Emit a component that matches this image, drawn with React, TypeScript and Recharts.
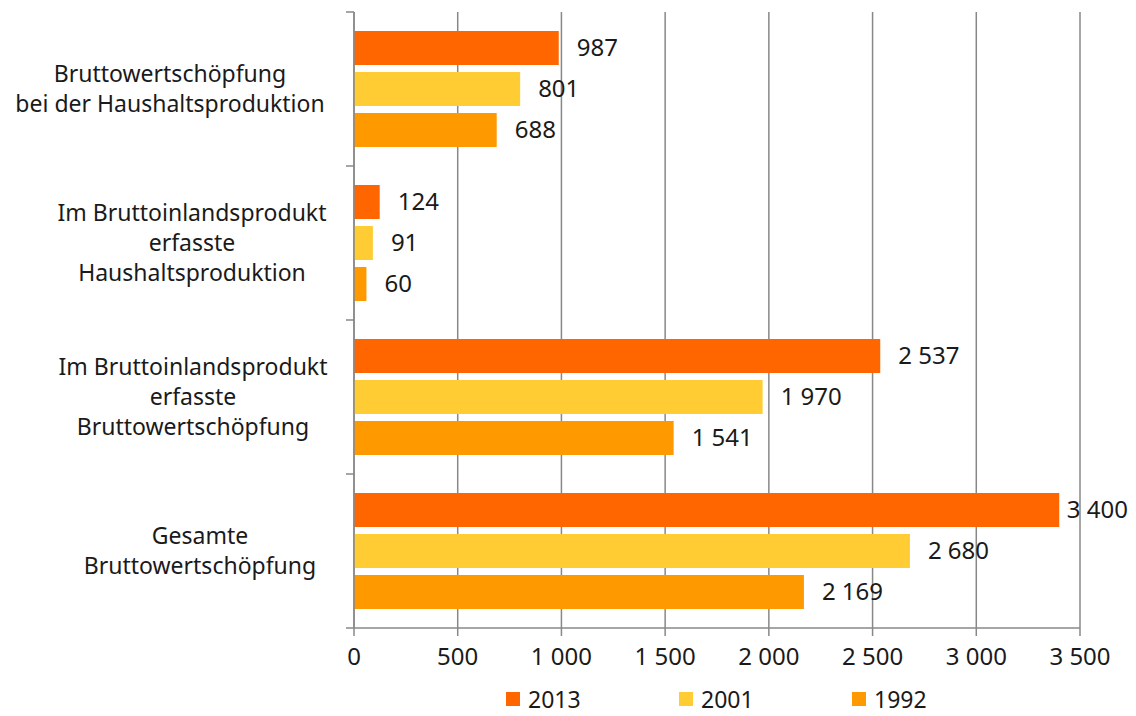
import { BarChart, Bar, XAxis, YAxis, CartesianGrid, Legend, LabelList } from "recharts";

const categories = [
  "Bruttowertschöpfung\nbei der Haushaltsproduktion",
  "Im Bruttoinlandsprodukt\nerfasste\nHaushaltsproduktion",
  "Im Bruttoinlandsprodukt\nerfasste\nBruttowertschöpfung",
  "Gesamte\nBruttowertschöpfung",
];
const years = ["2013", "2001", "1992"];
const values2013 = [987, 124, 2537, 3400];
const values2001 = [801, 91, 1970, 2680];
const values1992 = [688, 60, 1541, 2169];
const xTicks = [0, 500, 1000, 1500, 2000, 2500, 3000, 3500];

const data = categories.map((name, i) => ({
  name,
  y2013: values2013[i],
  y2001: values2001[i],
  y1992: values1992[i],
}));

const FONT = "'Noto Sans', sans-serif";
const FS = 24;
const GRID = "#888888";
const TOP = 12;
const PLOT_H = 616;
const BAND = PLOT_H / categories.length;
const AXIS_X = 354;
const CHART_W = 1136;
// horizontal centre of each wrapped category label (Excel-style right-aligned blocks)
const labelCenters = [170, 192, 193, 200];

const fmt = (v: number) => String(v).replace(/\B(?=(\d{3})+(?!\d))/g, " ");

function CategoryTick(props: any) {
  const { y, payload, index } = props;
  const lines: string[] = String(payload.value).split("\n");
  const lh = 30;
  const start = y - ((lines.length - 1) * lh) / 2;
  const cx = labelCenters[index] ?? 190;
  return (
    <g>
      <line x1={AXIS_X - 8} x2={AXIS_X} y1={y - BAND / 2} y2={y - BAND / 2} stroke={GRID} strokeWidth={1.5} />
      {index === categories.length - 1 && (
        <line x1={AXIS_X - 8} x2={AXIS_X} y1={y + BAND / 2} y2={y + BAND / 2} stroke={GRID} strokeWidth={1.5} />
      )}
      <text textAnchor="middle" fontFamily={FONT} fontSize={FS - 1} fill="#1a1a1a">
        {lines.map((l, i) => (
          <tspan key={i} x={cx} y={start + i * lh} dy="0.35em">
            {l}
          </tspan>
        ))}
      </text>
    </g>
  );
}

// value label right of the bar, pulled back inside the chart if it would run off the edge
function ValueLabel(props: any) {
  const { x, y, width, height, value } = props;
  const text = fmt(Number(value));
  const estW = text.length * FS * 0.56;
  let tx = x + width + 18;
  if (tx + estW > CHART_W - 2) tx = CHART_W - 2 - estW;
  return (
    <text x={tx} y={y + height / 2} dy="0.35em" fontFamily={FONT} fontSize={FS} fill="#1a1a1a">
      {text}
    </text>
  );
}

function LegendContent(props: any) {
  const items = [...(props.payload || [])].sort(
    (a: any, b: any) => years.indexOf(String(a.value)) - years.indexOf(String(b.value))
  );
  return (
    <div
      style={{
        display: "flex",
        paddingLeft: 506,
        boxSizing: "border-box",
        fontFamily: FONT,
        fontSize: FS - 1,
        lineHeight: "24px",
        color: "#1a1a1a",
        height: 34,
        alignItems: "center",
      }}
    >
      {items.map((it: any) => (
        <div key={it.value} style={{ width: 173, display: "flex", alignItems: "center" }}>
          <span style={{ width: 14, height: 14, background: it.color, display: "inline-block", marginRight: 8 }} />
          {it.value}
        </div>
      ))}
    </div>
  );
}

export default function App() {
  return (
    <div style={{ position: "absolute", left: 0, top: 0, background: "#fff" }}>
      <BarChart
        width={CHART_W}
        height={716}
        data={data}
        layout="vertical"
        margin={{ top: TOP, right: 56, left: 0, bottom: 0 }}
        barCategoryGap={19}
        barGap={7}
      >
        <CartesianGrid vertical horizontal={false} stroke={GRID} strokeWidth={1.5} />
        <XAxis
          type="number"
          domain={[0, 3500]}
          ticks={xTicks}
          tickFormatter={fmt}
          height={54}
          tickSize={8}
          tickMargin={12}
          stroke={GRID}
          strokeWidth={1.5}
          tick={{ fontFamily: FONT, fontSize: FS, fill: "#1a1a1a" }}
          interval={0}
        />
        <YAxis
          type="category"
          dataKey="name"
          width={AXIS_X}
          tickLine={false}
          stroke={GRID}
          strokeWidth={1.5}
          tick={<CategoryTick />}
          interval={0}
        />
        <Legend verticalAlign="bottom" align="left" content={<LegendContent />} wrapperStyle={{ left: 0, width: CHART_W, bottom: 0 }} />
        <Bar dataKey="y2013" name="2013" fill="#ff6600" isAnimationActive={false}>
          <LabelList dataKey="y2013" content={<ValueLabel />} />
        </Bar>
        <Bar dataKey="y2001" name="2001" fill="#ffcc33" isAnimationActive={false}>
          <LabelList dataKey="y2001" content={<ValueLabel />} />
        </Bar>
        <Bar dataKey="y1992" name="1992" fill="#ff9900" isAnimationActive={false}>
          <LabelList dataKey="y1992" content={<ValueLabel />} />
        </Bar>
      </BarChart>
    </div>
  );
}
